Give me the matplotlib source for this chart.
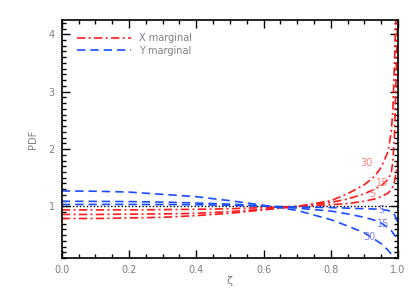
import matplotlib
matplotlib.use('Agg')
import matplotlib.pyplot as plt
from matplotlib.ticker import MultipleLocator

# values
zeta = [0.0, 0.1, 0.2, 0.3, 0.4, 0.5, 0.6, 0.7, 0.8, 0.85, 0.9, 0.93, 0.95,
        0.97, 0.98, 0.985, 0.99, 0.995, 1.0]

x_marg_5 = [0.94, 0.94, 0.94, 0.945, 0.95, 0.96, 0.98, 1.0, 1.03, 1.05, 1.09,
            1.13, 1.17, 1.23, 1.29, 1.35, 1.45, 1.6, 1.8]
x_marg_15 = [0.86, 0.86, 0.865, 0.87, 0.88, 0.91, 0.95, 1.0, 1.07, 1.13, 1.22,
             1.30, 1.36, 1.47, 1.58, 1.8, 2.3, 3.4, 4.5]
x_marg_30 = [0.79, 0.79, 0.80, 0.81, 0.84, 0.88, 0.94, 1.0, 1.10, 1.22, 1.38,
             1.52, 1.68, 1.95, 2.3, 2.7, 3.6, 4.5, 4.5]

y_marg_5 = [1.035, 1.035, 1.035, 1.033, 1.03, 1.02, 1.005, 0.99, 0.98, 0.97,
            0.96, 0.955, 0.95, 0.93, 0.91, 0.89, 0.85, 0.79, 0.70]
y_marg_15 = [1.09, 1.088, 1.085, 1.075, 1.06, 1.04, 1.01, 0.97, 0.92, 0.87,
             0.81, 0.76, 0.71, 0.63, 0.58, 0.54, 0.50, 0.47, 0.45]
y_marg_30 = [1.27, 1.265, 1.25, 1.21, 1.17, 1.10, 1.02, 0.93, 0.77, 0.66,
             0.54, 0.43, 0.35, 0.24, 0.17, 0.15, 0.12, 0.10, 0.08]

labels = ['5', '15', '30']
x_lab_pos = [(0.925, 1.22), (0.952, 1.40), (0.905, 1.75)]
y_lab_pos = [(0.95, 0.93), (0.955, 0.70), (0.914, 0.46)]

grey = '#7f7f7f'
red = '#ff1a1a'
blue = '#1a4dff'
dashdot = (0, (5, 2, 1.2, 2))
dashed = (0, (5, 3))

fig = plt.figure(figsize=(4.15, 2.97), dpi=100)
ax = fig.add_axes([0.149, 0.131, 0.810, 0.802])

ax.axhline(1.0, color='black', lw=1.0, ls=(0, (1, 1.5)))

for i, ys in enumerate([x_marg_5, x_marg_15, x_marg_30]):
    ax.plot(zeta, ys, color=red, lw=1.2, ls=dashdot,
            label='X marginal' if i == 0 else None)
for i, ys in enumerate([y_marg_5, y_marg_15, y_marg_30]):
    ax.plot(zeta, ys, color=blue, lw=1.2, ls=dashed,
            label='Y marginal' if i == 0 else None)

for lab, (px, py) in zip(labels, x_lab_pos):
    ax.text(px, py, lab, color='#ff8080', fontsize=7, ha='center', va='center')
for lab, (px, py) in zip(labels, y_lab_pos):
    ax.text(px, py, lab, color='#8080ff', fontsize=7, ha='center', va='center')

ax.set_xlim(0, 1)
ax.set_ylim(0.1, 4.25)
ax.xaxis.set_minor_locator(MultipleLocator(0.05))
ax.yaxis.set_minor_locator(MultipleLocator(0.1))
ax.set_xticks([0, 0.2, 0.4, 0.6, 0.8, 1.0])
ax.set_xticklabels(['0.0', '0.2', '0.4', '0.6', '0.8', '1.0'])
ax.set_yticks([1, 2, 3, 4])
ax.set_yticklabels(['1', '2', '3', '4'])
ax.tick_params(which='both', direction='in', top=True, right=True,
               labelcolor=grey, labelsize=7, color='black')
ax.tick_params(which='major', length=6, width=1, pad=5)
ax.tick_params(which='minor', length=3, width=1)
for s in ax.spines.values():
    s.set_linewidth(1.2)

ax.set_xlabel('ζ', color=grey, fontsize=8, labelpad=1)
ax.set_ylabel('PDF', color=grey, fontsize=7, labelpad=8)

leg = ax.legend(loc='upper left', frameon=False, fontsize=7, handlelength=5.5,
                labelspacing=0.25, labelcolor=grey,
                bbox_to_anchor=(0.02, 0.98))

fig.savefig('out.png', dpi=100)
